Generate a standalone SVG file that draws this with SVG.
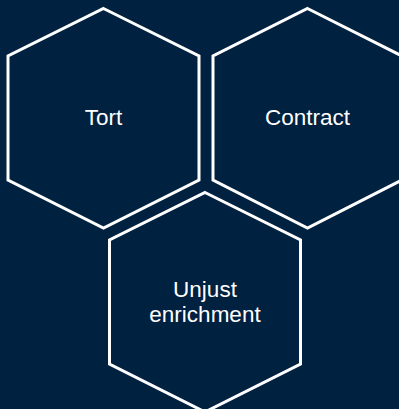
<svg xmlns="http://www.w3.org/2000/svg" width="399" height="409" viewBox="0 0 399 409">
  <style>
    .hex { fill: none; stroke: #ffffff; stroke-width: 3; stroke-linejoin: miter; }
    .lbl { font-family: "Liberation Sans", Arial, sans-serif; font-size: 22.5px; fill: #ffffff; text-anchor: middle; }
  </style>
  <rect x="0" y="0" width="399" height="409" fill="#00213f"/>
  <g id="connectors"></g>
  <g id="node-tort">
    <polygon class="hex" points="103.5,8.5 199,56 199,180 103.5,228 8,180 8,56"/>
    <text class="lbl" x="103.5" y="125">Tort</text>
  </g>
  <g id="node-contract">
    <polygon class="hex" points="307.5,8.5 402,56 402,180 307.5,228 213,180 213,56"/>
    <text class="lbl" x="307.5" y="124.5">Contract</text>
  </g>
  <g id="node-unjust-enrichment">
    <polygon class="hex" points="205,192.5 300.5,240 300.5,364 205,412 109.5,364 109.5,240"/>
    <text class="lbl" x="205" y="297">Unjust</text>
    <text class="lbl" x="205" y="322">enrichment</text>
  </g>
</svg>
